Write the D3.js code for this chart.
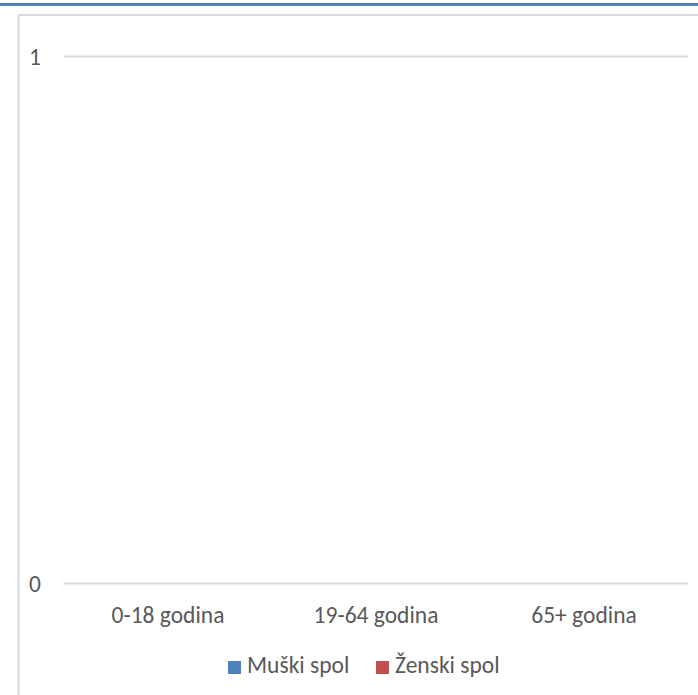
<!DOCTYPE html>
<html>
<head>
<meta charset="utf-8">
<script src="https://cdn.jsdelivr.net/npm/d3@7"></script>
<style>
  body { margin: 0; background: #fff; }
  text { font-family: Carlito, Calibri, Lato, sans-serif; fill: #595959; }
</style>
</head>
<body>
<div id="chart"></div>
<script>
var categories = ["0-18 godina", "19-64 godina", "65+ godina"];
var seriesNames = ["Muški spol", "Ženski spol"];
var muski = [0, 0, 0];
var zenski = [0, 0, 0];
var yTicks = [0, 1];
var colors = ["#4F81BD", "#C0504D"];

var W = 698, H = 695;
var margin = {left: 64, right: 10, top: 56, bottom: 112};
var width = W - margin.left - margin.right,
    height = H - margin.top - margin.bottom;
var fs = "23.5px";

var svg = d3.select("#chart").append("svg")
    .attr("width", W).attr("height", H);

// top accent bar and chart frame
svg.append("rect").attr("x", 0).attr("y", 3).attr("width", W).attr("height", 3).attr("fill", "#4F81BD");
svg.append("line").attr("x1", 18.5).attr("y1", 15).attr("x2", 18.5).attr("y2", H)
    .attr("stroke", "#d9d9d9").attr("stroke-width", 2);
svg.append("line").attr("x1", 18).attr("y1", 15).attr("x2", W).attr("y2", 15)
    .attr("stroke", "#d9d9d9").attr("stroke-width", 2);

var g = svg.append("g").attr("transform", "translate(" + margin.left + "," + margin.top + ")");

var x = d3.scaleBand().domain(categories).range([0, width]);
var x1 = d3.scaleBand().domain(seriesNames).range([0, x.bandwidth()]).paddingInner(0.1).paddingOuter(0.8);
var y = d3.scaleLinear().domain([0, 1]).range([height, 0]);

var yAxis = g.append("g")
    .call(d3.axisLeft(y).tickValues(yTicks).tickFormat(d3.format("d")).tickSize(-width).tickPadding(23));
yAxis.select(".domain").remove();
yAxis.selectAll(".tick line").attr("stroke", "#d9d9d9").attr("stroke-width", 2);
yAxis.selectAll(".tick text").style("font-size", fs).attr("dy", "0.35em");

var xAxis = g.append("g").attr("transform", "translate(0," + height + ")")
    .call(d3.axisBottom(x).tickSize(0).tickPadding(23));
xAxis.select(".domain").remove();
xAxis.selectAll(".tick text").style("font-size", fs).attr("dy", "0.71em");

var rows = categories.map(function(c, i){ return {cat: c, vals: [muski[i], zenski[i]]}; });
g.selectAll(".grp").data(rows).enter().append("g")
    .attr("transform", function(d){ return "translate(" + x(d.cat) + ",0)"; })
    .selectAll("rect").data(function(d){ return d.vals.map(function(v, j){ return {name: seriesNames[j], v: v}; }); })
    .enter().append("rect")
    .attr("x", function(d){ return x1(d.name); })
    .attr("width", x1.bandwidth())
    .attr("y", function(d){ return y(d.v); })
    .attr("height", function(d){ return height - y(d.v); })
    .attr("fill", function(d, j){ return colors[j]; });

// legend
var legend = svg.append("g").attr("transform", "translate(228,661)");
var lx = [0, 148];
seriesNames.forEach(function(n, i){
  var it = legend.append("g").attr("transform", "translate(" + lx[i] + ",0)");
  it.append("rect").attr("width", 13).attr("height", 13).attr("fill", colors[i]);
  it.append("text").attr("x", 19).attr("y", 12).style("font-size", fs).text(n);
});
</script>
</body>
</html>
